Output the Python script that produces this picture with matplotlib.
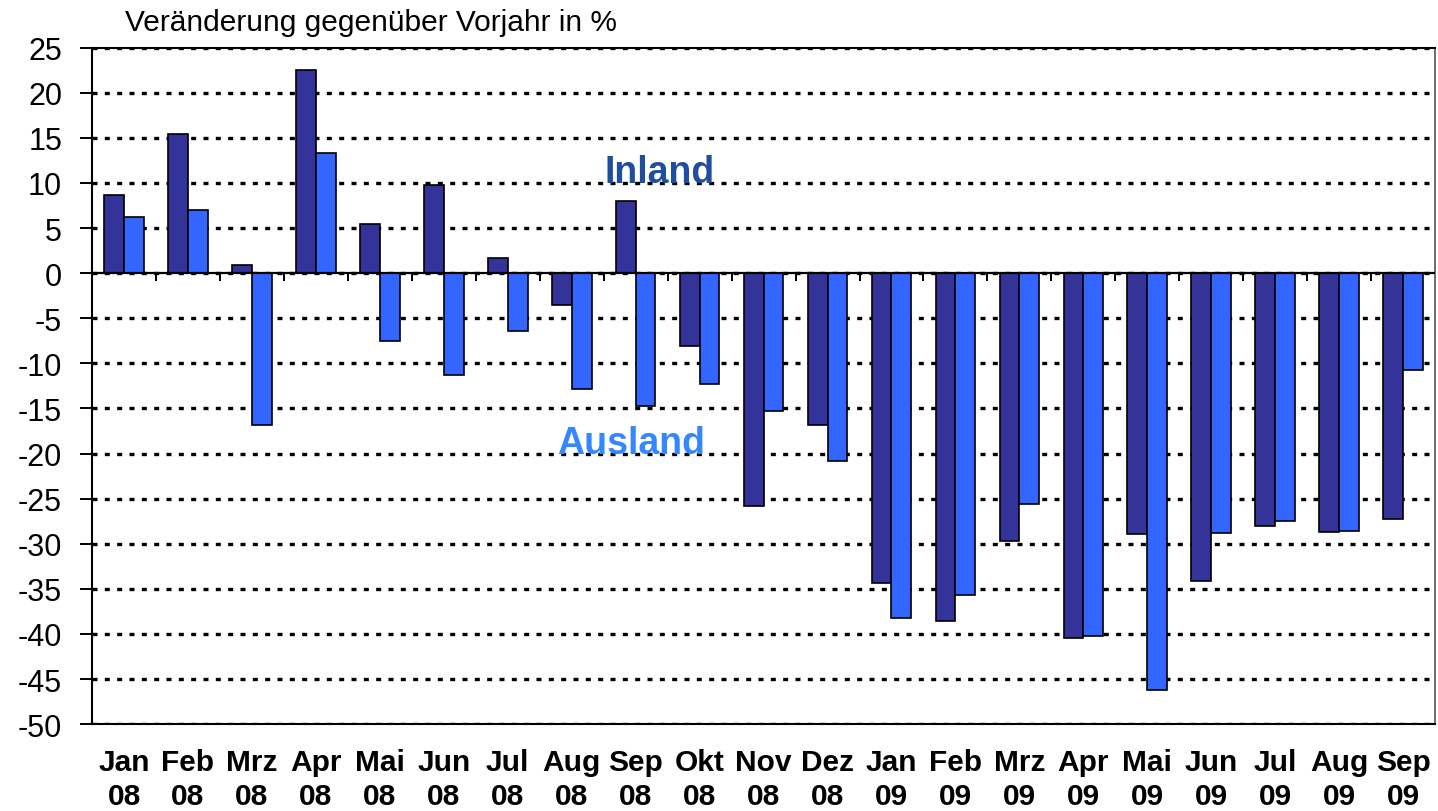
import matplotlib.pyplot as plt
import numpy as np

plt.rcParams['font.family'] = ['Liberation Sans', 'DejaVu Sans']
plt.rcParams['axes.unicode_minus'] = False

months = ["Jan", "Feb", "Mrz", "Apr", "Mai", "Jun", "Jul", "Aug", "Sep", "Okt", "Nov", "Dez",
          "Jan", "Feb", "Mrz", "Apr", "Mai", "Jun", "Jul", "Aug", "Sep"]
years = ["08"] * 12 + ["09"] * 9
inland = [8.7, 15.4, 0.9, 22.5, 5.5, 9.8, 1.7, -3.5, 8.0, -8.1, -25.8, -16.8,
          -34.3, -38.6, -29.7, -40.5, -28.9, -34.1, -28.0, -28.7, -27.3]
ausland = [6.2, 7.0, -16.8, 13.3, -7.5, -11.3, -6.4, -12.8, -14.7, -12.3, -15.3, -20.8,
           -38.2, -35.7, -25.6, -40.2, -46.2, -28.8, -27.5, -28.6, -10.7]

fig = plt.figure(figsize=(14.38, 8.12), dpi=100)
ax = fig.add_axes([0.064, 0.107, 0.934, 0.833])

x = np.arange(len(months))
w = 0.31
ax.bar(x - w / 2, inland, w, color="#333399", edgecolor="black", linewidth=1.2, zorder=3)
ax.bar(x + w / 2, ausland, w, color="#3366FF", edgecolor="black", linewidth=1.2, zorder=3)

ax.set_xlim(-0.5, len(months) - 0.5)
ax.set_ylim(-50, 25)
ax.set_yticks(np.arange(-50, 26, 5))
ax.yaxis.grid(True, color="black", linestyle=(0, (1.5, 2.2)), linewidth=2.4, zorder=0)

# zero line with category separators
ax.axhline(0, color="black", linewidth=1.6, zorder=4)
ax.vlines(x[:-1] + 0.5, -0.9, 0, color="black", linewidth=1.4, zorder=4)

ax.set_xticks(x)
ax.set_xticklabels([m + "\n" + y for m, y in zip(months, years)], fontsize=21.5,
                   fontweight="bold", linespacing=1.3)
ax.tick_params(axis="x", length=0, pad=17)
ax.tick_params(axis="y", length=8.6, width=1.4, labelsize=22, pad=13)

for s in ["left", "bottom", "top"]:
    ax.spines[s].set_linewidth(1.5)
    ax.spines[s].set_color("black")
ax.spines["right"].set_color("#555555")
ax.spines["right"].set_linewidth(1.2)

ax.text(8.38, 11.2, "Inland", color="#1F4E9E", fontsize=27, fontweight="bold",
        ha="center", va="center", zorder=5)
ax.text(7.93, -18.8, "Ausland", color="#3388FF", fontsize=27, fontweight="bold",
        ha="center", va="center", zorder=5)

fig.text(0.087, 0.972, "Veränderung gegenüber Vorjahr in %", fontsize=21.5,
         ha="left", va="center")

fig.savefig("out.png", dpi=100)
